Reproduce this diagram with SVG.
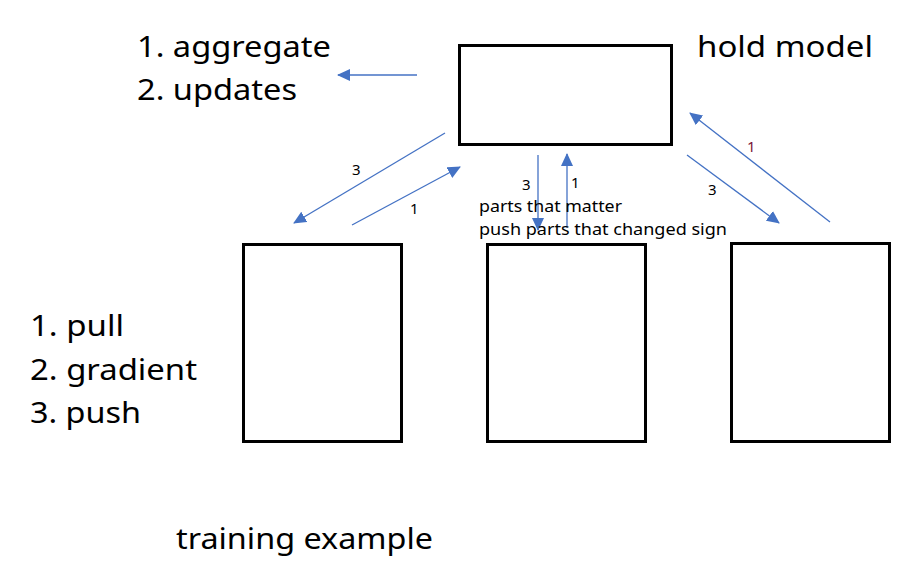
<svg xmlns="http://www.w3.org/2000/svg" width="914" height="575" viewBox="0 0 914 575">
<style>
.box{fill:#fff;stroke:#000;stroke-width:3}
.big{font-family:"Noto Sans","Open Sans",sans-serif;font-size:29px;fill:#000}
.sm{font-family:"Noto Sans","Open Sans",sans-serif;font-size:16px;fill:#000}
.num{font-family:"Noto Sans","Open Sans",sans-serif;font-size:15px;fill:#000}
.conn line{stroke:#4472C4;stroke-width:1.3;marker-end:url(#ah)}
</style>
<defs>
<marker id="ah" markerUnits="userSpaceOnUse" markerWidth="14" markerHeight="12" refX="12" refY="6" orient="auto">
<path d="M0,0 L13,6 L0,12 Z" fill="#4472C4"/>
</marker>
</defs>
<rect width="914" height="575" fill="#fff"/>
<g id="server"><rect class="box" x="459.5" y="45.5" width="212" height="99"/></g>
<g id="worker1"><rect class="box" x="243.5" y="244.5" width="158" height="197"/></g>
<g id="worker2"><rect class="box" x="487.5" y="244.5" width="158" height="197"/></g>
<g id="worker3"><rect class="box" x="731.5" y="243.5" width="158" height="198"/></g>
<g class="conn" id="connectors">
<line x1="417" y1="75" x2="338" y2="75"/>
<line x1="445" y1="133" x2="294" y2="223"/>
<line x1="352" y1="225" x2="460" y2="167"/>
<line x1="538" y1="155" x2="538" y2="230"/>
<line x1="567" y1="228" x2="567" y2="154"/>
<line x1="687" y1="155" x2="779" y2="223"/>
<line x1="830" y1="222" x2="690" y2="113"/>
</g>
<g id="labels">
<text class="num" x="352" y="175">3</text>
<text class="num" x="410" y="214">1</text>
<text class="num" x="522" y="190">3</text>
<text class="num" x="571" y="188">1</text>
<text class="num" x="708" y="195">3</text>
<text class="num" x="747" y="152" style="fill:#7a1538">1</text>
<text class="sm" x="479" y="212" textLength="143" lengthAdjust="spacingAndGlyphs">parts that matter</text>
<text class="sm" x="479" y="235" textLength="248" lengthAdjust="spacingAndGlyphs">push parts that changed sign</text>
<text class="big" x="137" y="57" textLength="194" lengthAdjust="spacingAndGlyphs">1. aggregate</text>
<text class="big" x="137" y="100" textLength="160" lengthAdjust="spacingAndGlyphs">2. updates</text>
<text class="big" x="697" y="57" textLength="176" lengthAdjust="spacingAndGlyphs">hold model</text>
<text class="big" x="30" y="336" textLength="94" lengthAdjust="spacingAndGlyphs">1. pull</text>
<text class="big" x="30" y="380" textLength="167" lengthAdjust="spacingAndGlyphs">2. gradient</text>
<text class="big" x="30" y="423" textLength="111" lengthAdjust="spacingAndGlyphs">3. push</text>
<text class="big" x="176" y="549" textLength="257" lengthAdjust="spacingAndGlyphs">training example</text>
</g>
</svg>
